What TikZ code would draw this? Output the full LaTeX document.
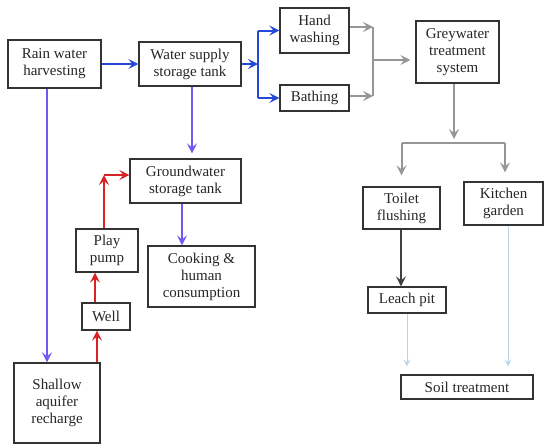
\documentclass[tikz,border=0pt]{standalone}
\usepackage{fontspec}
\setmainfont{Liberation Serif}
\usetikzlibrary{arrows.meta}
\definecolor{flowblue}{RGB}{38,72,215}
\definecolor{flowviolet}{RGB}{118,88,240}
\definecolor{flowred}{RGB}{215,35,35}
\definecolor{flowgrey}{RGB}{150,150,150}
\definecolor{flowpale}{RGB}{185,212,232}
\tikzset{
	box/.style={draw=black!80, line width=1.3pt, align=center, inner sep=0pt, text=black!85, font=\fontsize{15}{17}\selectfont},
	flow/.style={line width=2pt, -{Stealth[length=10pt,width=10pt,inset=4pt]}},
	bar/.style={line width=2pt}
}

\begin{document}
\begin{tikzpicture}[x=1pt, y=-1pt]
		%%%%% START %%%%%
		\useasboundingbox (0, 0) rectangle (545, 445);
		
		% boxes
		\node[box, minimum width=93, minimum height=48] (rwh) at (54.5, 64) {Rain water\\harvesting};
		\node[box, minimum width=102, minimum height=44] (wsst) at (190, 64) {Water supply\\storage tank};
		\node[box, minimum width=69, minimum height=45] (hand) at (314.5, 30.5) {Hand\\washing};
		\node[box, minimum width=69, minimum height=26] (bath) at (314.5, 98) {Bathing};
		\node[box, minimum width=83, minimum height=62] (grey) at (457.5, 52) {Greywater\\treatment\\system};
		\node[box, minimum width=111, minimum height=44] (gwst) at (185.5, 181) {Groundwater\\storage tank};
		\node[box, minimum width=107, minimum height=61] (cook) at (201.5, 276.5) {Cooking \&\\human\\consumption};
		\node[box, minimum width=62, minimum height=43] (play) at (107, 250.5) {Play\\pump};
		\node[box, minimum width=48, minimum height=27] (well) at (106, 316.5) {Well};
		\node[box, minimum width=86, minimum height=80] (aquifer) at (57, 403) {Shallow\\aquifer\\recharge};
		\node[box, minimum width=77, minimum height=42] (toilet) at (401.5, 208) {Toilet\\flushing};
		\node[box, minimum width=79, minimum height=43] (kitchen) at (503.5, 203.5) {Kitchen\\garden};
		\node[box, minimum width=78, minimum height=26] (leach) at (407, 300) {Leach pit};
		\node[box, minimum width=132, minimum height=24] (soil) at (467, 387) {Soil treatment};
		
		% junctions
		\coordinate (split) at (258, 64);
		\coordinate (merge) at (373, 60);
		\coordinate (fork) at (454, 143);
		\coordinate (lift) at (104, 175);
		
		% supply side
		\draw[flow, color=flowblue] (rwh) -- (wsst);
		\draw[flow, color=flowblue] (wsst) -- (split);
		\draw[bar, color=flowblue] (split |- hand) -- (split |- bath);
		\draw[flow, color=flowblue] (split |- hand) -- (hand);
		\draw[flow, color=flowblue] (split |- bath) -- (bath);
		
		\draw[flow, color=flowviolet] (rwh.south -| 47, 0) -- (aquifer.north -| 47, 0);
		\draw[flow, color=flowviolet, shorten >=5pt] (wsst.south -| 192, 0) -- (gwst.north -| 192, 0);
		\draw[flow, color=flowviolet] (gwst.south -| 182, 0) -- (cook.north -| 182, 0);
		
		\draw[flow, color=flowred] (aquifer.north -| 97, 0) -- (well.south -| 97, 0);
		\draw[flow, color=flowred] (well.north -| 95, 0) -- (play.south -| 95, 0);
		\draw[flow, color=flowred] (play.north -| lift) -- (lift);
		\draw[flow, color=flowred] (lift) -- (gwst.west |- lift);
		
		% greywater side
		\draw[flow, color=flowgrey] (hand.east |- 0, 27) -- (merge |- 0, 27);
		\draw[flow, color=flowgrey] (bath.east |- 0, 96) -- (merge |- 0, 96);
		\draw[bar, color=flowgrey] (merge |- 0, 27) -- (merge |- 0, 96);
		\draw[flow, color=flowgrey, shorten >=5pt] (merge) -- (grey.west |- merge);
		\draw[flow, color=flowgrey, shorten >=4pt] (grey.south -| fork) -- (fork);
		\draw[bar, color=flowgrey] (fork -| toilet) -- (fork -| 505, 0);
		\draw[flow, color=flowgrey, shorten >=11pt] (fork -| toilet) -- (toilet);
		\draw[flow, color=flowgrey, shorten >=9pt] (fork -| 505, 0) -- (kitchen.north -| 505, 0);
		
		\draw[flow, color=black!75] (toilet.south -| 401, 0) -- (leach.north -| 401, 0);
		\draw[line width=1pt, color=flowpale, -{Stealth[length=7pt,width=7pt,inset=3pt]}, shorten >=8pt] (leach.south -| 407, 0) -- (soil.north -| 407, 0);
		\draw[line width=1pt, color=flowpale, -{Stealth[length=7pt,width=7pt,inset=3pt]}, shorten >=8pt] (kitchen.south -| 508, 0) -- (soil.north -| 508, 0);
		%%%%% END %%%%%
\end{tikzpicture}
\end{document}
